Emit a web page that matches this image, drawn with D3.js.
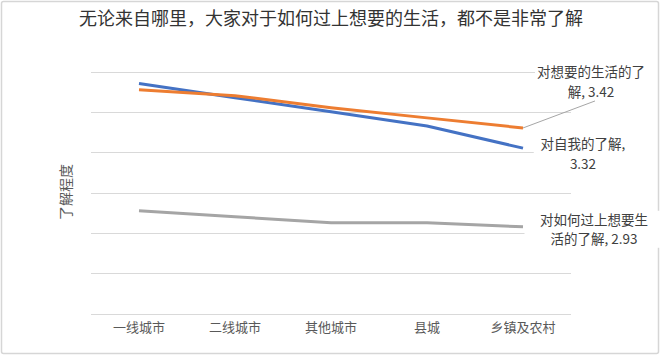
<!DOCTYPE html>
<html>
<head>
<meta charset="utf-8">
<script src="https://cdn.jsdelivr.net/npm/d3@7"></script>
<style>
  html, body { margin: 0; padding: 0; background: #fff; }
  svg { display: block; font-family: "PingFang SC", "Noto Sans CJK SC", sans-serif; }
</style>
</head>
<body>
<svg id="chart" width="661" height="357"></svg>
<script>
const title = "无论来自哪里，大家对于如何过上想要的生活，都不是非常了解";
const yTitle = "了解程度";
const categories = ["一线城市", "二线城市", "其他城市", "县城", "乡镇及农村"];
const selfValues   = [3.64, 3.57, 3.50, 3.43, 3.32];   // 对自我的了解
const lifeValues   = [3.61, 3.58, 3.52, 3.47, 3.42];   // 对想要的生活的了解
const howValues    = [3.01, 2.98, 2.95, 2.95, 2.93];   // 对如何过上想要生活的了解
const gridTicks = [2.5, 2.7, 2.9, 3.1, 3.3, 3.5, 3.7];
const seriesNames = ["对想要的生活的了解", "对自我的了解", "对如何过上想要生活的了解"];
const labelLines = [
  ["对想要的生活的了", "解, 3.42"],
  ["对自我的了解,", "3.32"],
  ["对如何过上想要生", "活的了解, 2.93"]
];

const svg = d3.select("#chart");
const W = 661, H = 357;

// outer frame
svg.append("rect").attr("x", 1.5).attr("y", 1.5).attr("width", W - 4).attr("height", H - 5)
  .attr("fill", "#fff").attr("stroke", "#d6d6d6").attr("stroke-width", 1.5).attr("rx", 2);

const plot = { left: 91, right: 571, top: 71.5, bottom: 313.5 };

const x = d3.scaleBand().domain(categories).range([plot.left, plot.right]).paddingInner(0).paddingOuter(0);
const y = d3.scaleLinear().domain([2.5, 3.7]).range([plot.bottom, plot.top]);
const cx = d => x(d) + x.bandwidth() / 2;

// gridlines
svg.append("g").selectAll("line").data(gridTicks).join("line")
  .attr("x1", plot.left).attr("x2", plot.right)
  .attr("y1", d => Math.round(y(d)) + 0.5).attr("y2", d => Math.round(y(d)) + 0.5)
  .attr("stroke", "#d9d9d9").attr("stroke-width", 1);

// x axis labels
const xAxis = d3.axisBottom(x).tickSize(0).tickPadding(9);
const gx = svg.append("g").attr("transform", `translate(0,${plot.bottom})`).call(xAxis);
gx.select(".domain").remove();
gx.selectAll("text").attr("font-size", 13).attr("fill", "#595959")
  .attr("font-family", "'PingFang SC','Noto Sans CJK SC',sans-serif");

// y title
svg.append("text").attr("transform", `translate(71,192) rotate(-90)`)
  .attr("text-anchor", "middle").attr("font-size", 14).attr("fill", "#595959").text(yTitle);

// title
svg.append("text").attr("x", 331).attr("y", 25).attr("text-anchor", "middle")
  .attr("font-size", 18).attr("fill", "#333").text(title);

// lines
const series = [
  { values: lifeValues, color: "#ED7D31" },
  { values: selfValues, color: "#4472C4" },
  { values: howValues, color: "#A5A5A5" }
];
const line = d3.line().x((d, i) => cx(categories[i])).y(d => y(d));
series.slice().reverse().forEach(s => {
  svg.append("path").datum(s.values).attr("d", line)
    .attr("fill", "none").attr("stroke", s.color).attr("stroke-width", 3)
    .attr("stroke-linejoin", "round").attr("stroke-linecap", "butt");
});

// data labels
const last = categories[categories.length - 1];
const ex = cx(last);
const labelSpecs = [
  { vals: lifeValues, dx: 68, dy: -56, leader: true },
  { vals: selfValues, dx: 60, dy: -4, leader: false },
  { vals: howValues, dx: 71, dy: -7, leader: false }
];
const fs = 13.5, lh = 19.6;
labelSpecs.forEach((s, k) => {
  const ey = y(s.vals[s.vals.length - 1]);
  const lx = ex + s.dx, ly = ey + s.dy;
  if (s.leader) {
    svg.append("line").attr("x1", ex).attr("y1", ey).attr("x2", ex + 72).attr("y2", ey - 27)
      .attr("stroke", "#a6a6a6").attr("stroke-width", 1);
  }
  const g = svg.append("g");
  const lines = labelLines[k];
  const bw = d3.max(lines, t => t.length) * fs + 4;
  g.append("rect").attr("x", lx - bw / 2).attr("y", ly - 9).attr("width", bw).attr("height", 37)
    .attr("fill", "#fff");
  lines.forEach((str, j) => {
    g.append("text").attr("x", lx).attr("y", ly + 5 + j * lh).attr("text-anchor", "middle")
      .attr("font-size", fs).attr("fill", "#404040").text(str);
  });
});
</script>
</body>
</html>
